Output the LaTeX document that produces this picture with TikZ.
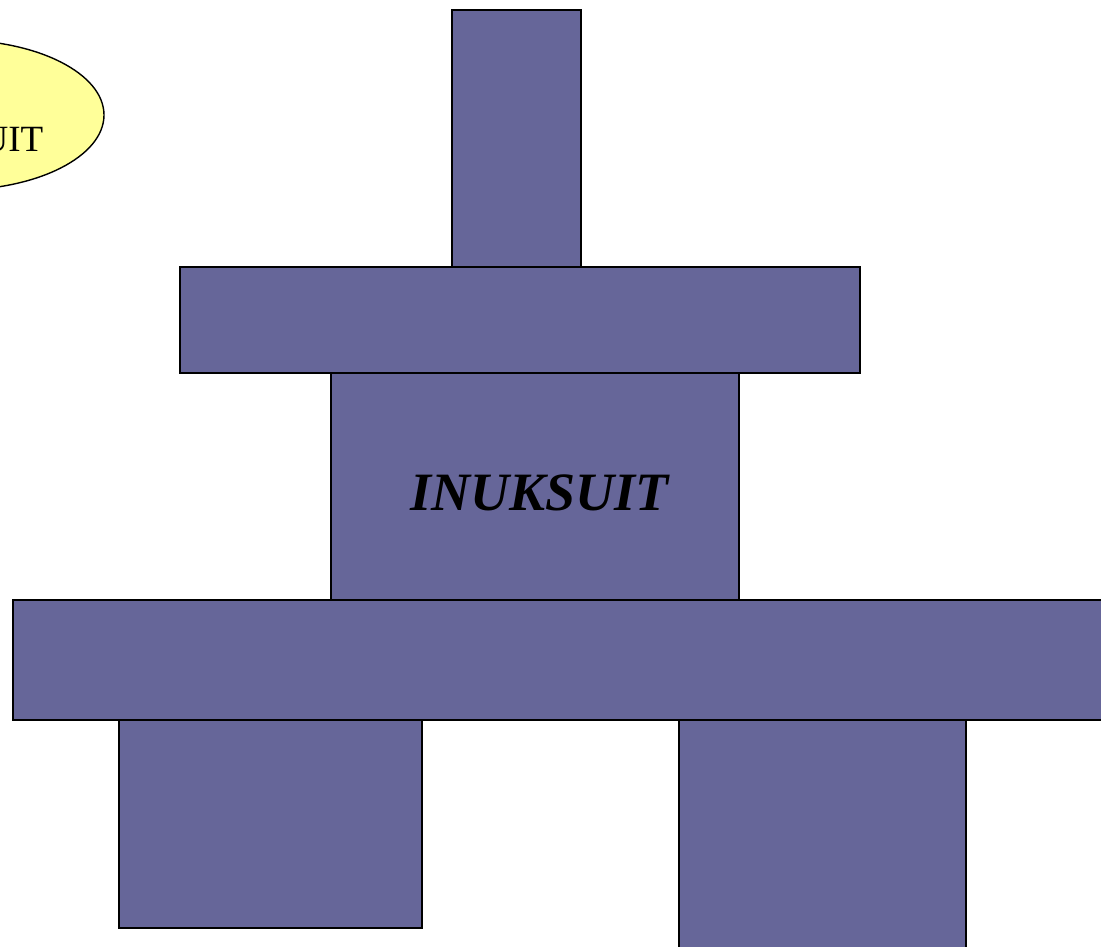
\documentclass[tikz,border=0pt]{standalone}
\usepackage{fontspec}
\setmainfont{Liberation Serif}
\usetikzlibrary{shapes.geometric}
\definecolor{stone}{RGB}{102,102,153}
\definecolor{paleyellow}{RGB}{255,255,153}
\tikzset{
  block/.style={draw=black, fill=stone, line width=1.4pt, rectangle, inner sep=0pt, outer sep=0pt, anchor=north west},
  bubble/.style={draw=black, fill=paleyellow, line width=1.4pt, ellipse, inner sep=0pt, outer sep=0pt}
}
\begin{document}
\begin{tikzpicture}[x=1pt,y=-1pt]
\useasboundingbox (0,0) rectangle (1101,946);
\fill[white] (0,0) rectangle (1101,946);
\clip (0,0) rectangle (1101,946);
% ellipse (partly off the left edge, as in the reference)
\node[bubble, minimum width=296pt, minimum height=150pt] (bubble) at (-44,115) {};
\node[inner sep=0pt, font=\fontsize{37}{40}\selectfont] (bubbletext) at (-44,139) {INUKSUIT};
% stones
\node[block, minimum width=129pt, minimum height=257pt] (post) at (452,10) {};
\node[block, minimum width=680pt, minimum height=106pt] (upper) at (180,267) {};
\node[block, minimum width=408pt, minimum height=227pt] (middle) at (331,373) {};
\node[block, minimum width=1120pt, minimum height=120pt] (base) at (13,600) {};
\node[block, minimum width=303pt, minimum height=208pt] (leftleg) at (119,720) {};
\node[block, minimum width=287pt, minimum height=240pt] (rightleg) at (679,720) {};
\node[inner sep=0pt, font=\fontsize{54}{60}\selectfont\bfseries\itshape] (label) at (540,493) {INUKSUIT};
\end{tikzpicture}
\end{document}
